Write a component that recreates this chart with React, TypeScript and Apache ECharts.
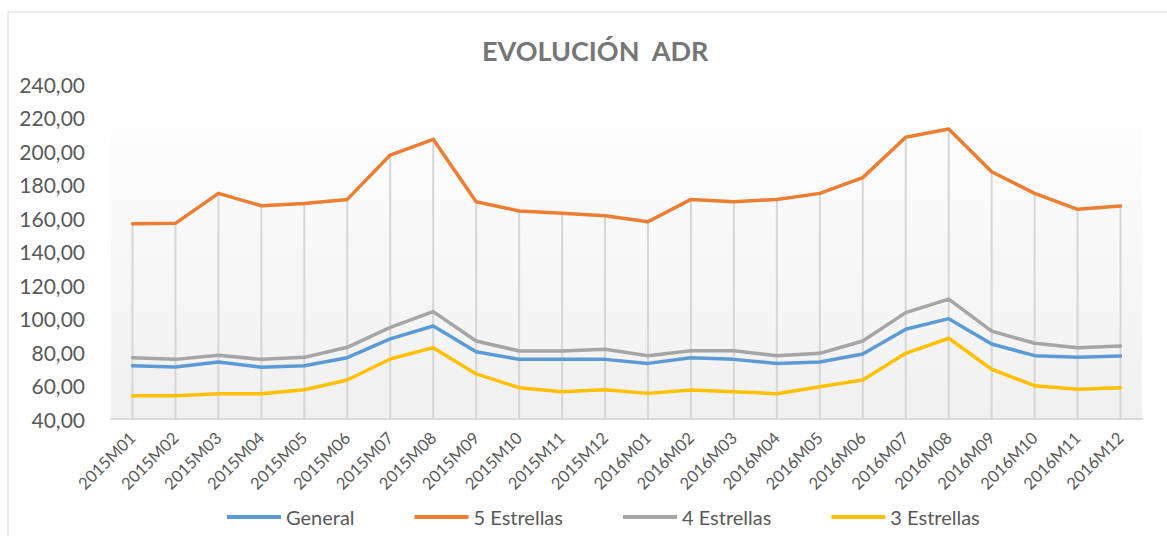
import React, { useEffect, useRef } from "react";
import * as echarts from "echarts";

const categories = [
  "2015M01", "2015M02", "2015M03", "2015M04", "2015M05", "2015M06",
  "2015M07", "2015M08", "2015M09", "2015M10", "2015M11", "2015M12",
  "2016M01", "2016M02", "2016M03", "2016M04", "2016M05", "2016M06",
  "2016M07", "2016M08", "2016M09", "2016M10", "2016M11", "2016M12",
];

const general = [
  71.8, 71.0, 74.0, 70.9, 71.8, 76.6, 87.8, 95.5, 80.2, 75.6, 75.6, 75.6,
  73.2, 76.6, 75.6, 73.2, 74.0, 78.8, 93.6, 99.9, 84.8, 77.8, 76.8, 77.6,
];
const estrellas5 = [
  156.6, 156.8, 174.7, 167.3, 168.7, 171.1, 197.6, 207.0, 169.7, 164.2, 162.8, 161.4,
  157.8, 171.1, 169.7, 171.1, 174.7, 184.1, 208.2, 213.1, 187.6, 174.7, 165.2, 167.2,
];
const estrellas4 = [
  76.6, 75.6, 78.0, 75.6, 76.8, 82.8, 94.7, 104.1, 86.6, 80.6, 80.6, 81.6,
  77.8, 80.8, 80.8, 77.8, 79.2, 86.6, 103.5, 111.6, 92.5, 85.2, 82.6, 83.6,
];
const estrellas3 = [
  53.9, 53.9, 55.1, 55.1, 57.5, 63.3, 75.8, 82.6, 66.9, 58.7, 56.3, 57.5,
  55.3, 57.3, 56.3, 55.1, 59.3, 63.3, 79.2, 88.2, 69.7, 59.9, 57.7, 58.7,
];

const seriesNames = ["General", "5 Estrellas", "4 Estrellas", "3 Estrellas"];
const seriesColors = ["#5b9bd5", "#ed7d31", "#a5a5a5", "#ffc000"];
const seriesData = [general, estrellas5, estrellas4, estrellas3];

const FONT = "Lato, 'Open Sans', sans-serif";

export default function App() {
  const ref = useRef<HTMLDivElement>(null);
  useEffect(() => {
    if (!ref.current) return;
    const chart = echarts.init(ref.current, undefined, { renderer: "svg" });
    const dropTops = categories.map((_, i) =>
      Math.max(general[i], estrellas5[i], estrellas4[i], estrellas3[i])
    );
    chart.setOption({
      animation: false,
      backgroundColor: "#ffffff",
      textStyle: { fontFamily: FONT },
      title: {
        text: "EVOLUCIÓN  ADR",
        left: 482,
        top: 37,
        padding: 0,
        textStyle: { fontFamily: FONT, fontSize: 27, fontWeight: "bold", color: "#767676" },
      },
      graphic: [
        {
          type: "rect",
          z: -10,
          silent: true,
          shape: { x: 8, y: 12, width: 1200, height: 600 },
          style: { fill: "#ffffff", stroke: "#d9d9d9", lineWidth: 1 },
        },
        {
          type: "rect",
          z: -5,
          silent: true,
          shape: { x: 111, y: 128, width: 1031, height: 291 },
          style: {
            fill: new echarts.graphic.LinearGradient(0, 0, 0, 1, [
              { offset: 0, color: "#fdfdfd" },
              { offset: 1, color: "#f0f0f0" },
            ]),
          },
        },
      ],
      legend: {
        data: seriesNames,
        bottom: 4,
        left: 222,
        icon: "rect",
        itemWidth: 54,
        itemHeight: 4,
        itemGap: 60,
        textStyle: { fontFamily: FONT, fontSize: 20, color: "#595959" },
      },
      grid: { left: 111, right: 25, top: 84, bottom: 117 },
      xAxis: {
        type: "category",
        data: categories,
        boundaryGap: true,
        axisLine: { show: true, lineStyle: { color: "#d9d9d9", width: 2 } },
        axisTick: { show: false },
        splitLine: { show: false },
        axisLabel: {
          rotate: 45,
          interval: 0,
          margin: 16,
          fontFamily: FONT,
          fontSize: 16.5,
          color: "#595959",
        },
      },
      yAxis: {
        type: "value",
        min: 40,
        max: 240,
        interval: 20,
        axisLine: { show: false },
        axisTick: { show: false },
        splitLine: { show: false },
        axisLabel: {
          fontFamily: FONT,
          fontSize: 21,
          color: "#595959",
          margin: 26,
          formatter: (v: number) => v.toFixed(2).replace(".", ","),
        },
      },
      series: [
        {
          name: "drop",
          type: "bar",
          data: dropTops,
          barWidth: 2,
          silent: true,
          z: 1,
          itemStyle: { color: "#d6d6d6" },
        },
        ...seriesNames.map((name, i) => ({
          name,
          type: "line",
          data: seriesData[i],
          symbol: "none",
          z: 3 + i,
          lineStyle: { color: seriesColors[i], width: 3.5, cap: "round", join: "round" },
          itemStyle: { color: seriesColors[i] },
        })),
      ],
    });
    return () => chart.dispose();
  }, []);
  return (
    <div
      ref={ref}
      style={{ position: "fixed", left: 0, top: 0, width: 1167, height: 536 }}
    />
  );
}
